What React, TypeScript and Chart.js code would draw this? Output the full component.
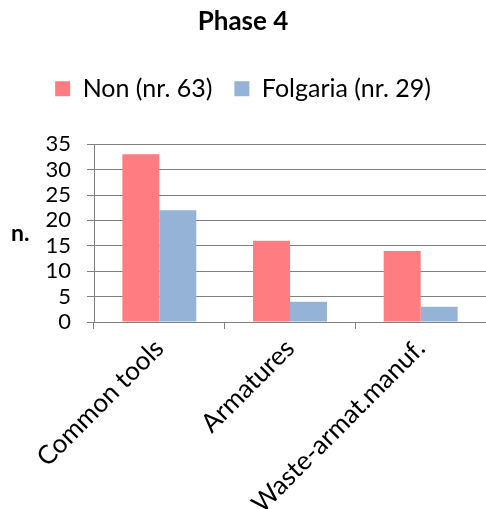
import { useEffect, useRef } from "react";
import { Chart, registerables } from "chart.js";

Chart.register(...registerables);

const categories = ["Common tools", "Armatures", "Waste-armat.manuf."];
const seriesLabels = ["Non (nr. 63)", "Folgaria (nr. 29)"];
const nonValues = [33, 16, 14];
const folgariaValues = [22, 4, 3];
const yMin = 0;
const yMax = 35;
const yStep = 5;
const chartTitle = "Phase 4";
const yAxisTitle = "n.";

const FONT = "Lato, 'Open Sans', sans-serif";

const yTitlePlugin = {
  id: "yTitleHoriz",
  afterDraw(chart: any) {
    const { ctx, chartArea } = chart;
    ctx.save();
    ctx.font = `bold 23px ${FONT}`;
    ctx.fillStyle = "#000";
    ctx.textAlign = "left";
    ctx.textBaseline = "middle";
    ctx.fillText(yAxisTitle, 11, (chartArea.top + chartArea.bottom) / 2);
    ctx.restore();
  },
};

const legendSpacePlugin = {
  id: "legendSpace",
  beforeInit(chart: any) {
    const legend = chart.legend;
    if (legend && !legend.__patched) {
      const orig = legend.fit;
      legend.fit = function () {
        orig.call(this);
        this.height += 33;
      };
      legend.__patched = true;
    }
  },
};

export default function App() {
  const ref = useRef<HTMLCanvasElement | null>(null);
  useEffect(() => {
    if (!ref.current) return;
    const chart = new Chart(ref.current, {
      type: "bar",
      data: {
        labels: categories,
        datasets: [
          {
            label: seriesLabels[0],
            data: nonValues,
            backgroundColor: "#FF7C80",
            borderWidth: 0,
            categoryPercentage: 0.566,
            barPercentage: 1,
          },
          {
            label: seriesLabels[1],
            data: folgariaValues,
            backgroundColor: "#95B3D7",
            borderWidth: 0,
            categoryPercentage: 0.566,
            barPercentage: 1,
          },
        ],
      },
      options: {
        responsive: false,
        animation: false,
        layout: { padding: { left: 0, right: 0, top: 0, bottom: 0 } },
        plugins: {
          title: {
            display: true,
            text: chartTitle,
            color: "#000",
            font: { family: FONT, size: 26, weight: "bold" },
            padding: { top: 6, bottom: 17 },
          },
          legend: {
            position: "top",
            labels: {
              color: "#000",
              font: { family: FONT, size: 25 },
              boxWidth: 15,
              boxHeight: 15,
              padding: 22,
            },
          },
          tooltip: { enabled: false },
        },
        scales: {
          x: {
            grid: {
              display: true,
              drawOnChartArea: false,
              drawTicks: true,
              tickLength: 7,
              color: "#808080",
              offset: true,
            },
            border: { display: true, color: "#808080", width: 1 },
            ticks: {
              color: "#000",
              font: { family: FONT, size: 26 },
              maxRotation: 45,
              minRotation: 45,
              padding: 4,
              autoSkip: false,
            },
            afterFit(scale: any) {
              scale.height = 187;
            },
          } as any,
          y: {
            min: yMin,
            max: yMax,
            ticks: {
              stepSize: yStep,
              color: "#000",
              font: { family: FONT, size: 22 },
              padding: 16,
              autoSkip: false,
            },
            grid: {
              color: "#808080",
              tickLength: 7,
              lineWidth: 1,
            },
            border: { display: true, color: "#808080", width: 1 },
            afterFit(scale: any) {
              scale.width = 94;
            },
          },
        },
      },
      plugins: [yTitlePlugin, legendSpacePlugin],
    });
    return () => chart.destroy();
  }, []);
  return (
    <div style={{ position: "absolute", left: 0, top: 0, width: 486, height: 509, background: "#fff" }}>
      <canvas ref={ref} width={486} height={509} style={{ display: "block" }} />
    </div>
  );
}
